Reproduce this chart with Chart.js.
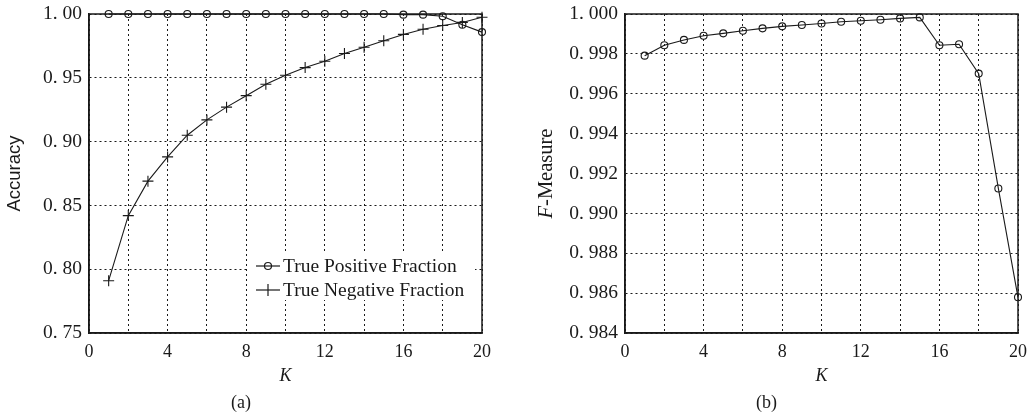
<!DOCTYPE html>
<html>
<head>
<meta charset="utf-8">
<script src="https://cdn.jsdelivr.net/npm/chart.js@4.4.1/dist/chart.umd.min.js"></script>
<style>
    body { margin: 0; background: #fff; }
    .panel { position: absolute; top: 0; width: 515px; height: 416px; }
    #panel-a { left: 0; }
    #panel-b { left: 515px; }
</style>
</head>
<body>
<div class="panel" id="panel-a"><canvas id="chart-a"></canvas></div>
<div class="panel" id="panel-b"><canvas id="chart-b"></canvas></div>
<script>
"use strict";

// Data:
var kValues = [1, 2, 3, 4, 5, 6, 7, 8, 9, 10, 11, 12, 13, 14, 15, 16, 17, 18, 19, 20];
var truePositive = [1.0, 1.0, 1.0, 1.0, 1.0, 1.0, 1.0, 1.0, 1.0, 1.0, 1.0, 1.0, 1.0, 1.0, 1.0, 0.9995, 0.9995, 0.9982, 0.9916, 0.9858];
var trueNegative = [0.791, 0.842, 0.869, 0.888, 0.905, 0.917, 0.927, 0.936, 0.945, 0.952, 0.958, 0.963, 0.969, 0.974, 0.979, 0.984, 0.988, 0.991, 0.9934, 0.9975];
var fMeasure = [0.99791, 0.99843, 0.9987, 0.99891, 0.99903, 0.99916, 0.99928, 0.99938, 0.99945, 0.99952, 0.99961, 0.99966, 0.99971, 0.99978, 0.99983, 0.99843, 0.99848, 0.99701, 0.99125, 0.98579];
var kTickLabels = [0, 4, 8, 12, 16, 20];

var INK = '#1a1a1a';
var SERIF = "'Liberation Serif', 'DejaVu Serif', serif";
var SANS = "'Liberation Sans', 'DejaVu Sans', sans-serif";
Chart.defaults.font.family = SERIF;
Chart.defaults.color = INK;

var toPoints = function (ys) {
    return kValues.map(function (k, i) { return { x: k, y: ys[i] }; });
};

// "0. 95" style labels like in the printed figure
var spacedLabel = function (digits) {
    return function (value) { return value.toFixed(digits).replace('.', '. '); };
};

// Frame, rotated y title (with optional italic parts) and the inner legend:
var decorations = {
    id: 'decorations',
    afterDraw: function (chart, args, opts) {
        var ctx = chart.ctx;
        var area = chart.chartArea;
        ctx.save();

        ctx.strokeStyle = INK;
        ctx.lineWidth = 1.5;
        ctx.strokeRect(area.left, area.top, area.right - area.left, area.bottom - area.top);

        // y title
        var parts = opts.yTitle || [];
        var fontOf = function (p) {
            return (p.italic ? 'italic ' : '') + opts.yTitleSize + 'px ' + opts.yTitleFamily;
        };
        var widths = parts.map(function (p) {
            ctx.font = fontOf(p);
            return ctx.measureText(p.text).width;
        });
        var total = widths.reduce(function (a, b) { return a + b; }, 0);
        ctx.translate(opts.yTitleX, (area.top + area.bottom) / 2);
        ctx.rotate(-Math.PI / 2);
        ctx.fillStyle = INK;
        ctx.textBaseline = 'middle';
        ctx.textAlign = 'left';
        var cx = -total / 2;
        parts.forEach(function (p, i) {
            ctx.font = fontOf(p);
            ctx.fillText(p.text, cx, 0);
            cx += widths[i];
        });
        ctx.setTransform(1, 0, 0, 1, 0, 0);

        if (opts.legend) {
            var boxW = 226, boxH = 48;
            var x0 = area.right - 7 - boxW;
            var y0 = area.bottom - 81;
            ctx.fillStyle = '#fff';
            ctx.fillRect(x0, y0, boxW, boxH);
            ctx.font = '19.5px ' + SERIF;
            ctx.textBaseline = 'middle';
            chart.data.datasets.forEach(function (ds, i) {
                var y = y0 + 14 + i * 24;
                ctx.strokeStyle = INK;
                ctx.lineWidth = 1.2;
                ctx.beginPath();
                ctx.moveTo(x0 + 7, y);
                ctx.lineTo(x0 + 31, y);
                ctx.stroke();
                var mx = x0 + 19;
                ctx.beginPath();
                if (ds.pointStyle === 'circle') {
                    ctx.arc(mx, y, 3.5, 0, Math.PI * 2);
                } else {
                    ctx.moveTo(mx, y - 6);
                    ctx.lineTo(mx, y + 6);
                }
                ctx.stroke();
                ctx.fillStyle = INK;
                ctx.fillText(ds.label, x0 + 34, y + 1);
            });
        }
        ctx.restore();
    }
};

var makeOptions = function (cfg) {
    return {
        responsive: true,
        maintainAspectRatio: false,
        animation: false,
        layout: { padding: { left: 0, right: cfg.padRight, top: 14, bottom: 0 } },
        plugins: {
            legend: { display: false },
            tooltip: { enabled: false },
            title: {
                display: true,
                position: 'bottom',
                text: cfg.caption,
                color: INK,
                font: { size: 18, weight: 'normal' },
                padding: { top: 0, bottom: 2 }
            },
            decorations: {
                yTitle: cfg.yTitle, yTitleX: cfg.yTitleX, yTitleSize: cfg.yTitleSize,
                yTitleFamily: cfg.yTitleFamily, legend: cfg.legend
            }
        },
        scales: {
            x: {
                type: 'linear',
                min: 0,
                max: 20,
                afterFit: function (scale) {
                    scale.height = 59.4;
                    scale.paddingLeft = 0;
                    scale.paddingRight = 0;
                },
                ticks: {
                    stepSize: 2,
                    padding: 8,
                    autoSkip: false,
                    maxRotation: 0,
                    color: INK,
                    font: { size: 18 },
                    callback: function (v) { return kTickLabels.indexOf(v) >= 0 ? String(v) : ''; }
                },
                grid: { color: INK, lineWidth: 1, drawTicks: false },
                border: { color: INK, width: 1.5, dash: [2, 3] },
                title: {
                    display: true,
                    text: 'K',
                    color: INK,
                    font: { size: 18, style: 'italic' },
                    padding: { top: 0, bottom: 5 }
                }
            },
            y: {
                min: cfg.yMin,
                max: cfg.yMax,
                afterFit: function (scale) {
                    scale.width = cfg.yWidth;
                    scale.paddingTop = 0;
                    scale.paddingBottom = 0;
                },
                ticks: {
                    stepSize: cfg.yStep,
                    padding: 7,
                    color: INK,
                    font: { size: 19.5 },
                    callback: spacedLabel(cfg.digits)
                },
                grid: { color: INK, lineWidth: 1, drawTicks: false },
                border: { color: INK, width: 1.5, dash: [2, 3] }
            }
        }
    };
};

var lineStyle = function (label, ys, pointStyle, radius) {
    return {
        label: label,
        data: toPoints(ys),
        borderColor: INK,
        borderWidth: 1.1,
        pointStyle: pointStyle,
        pointRadius: radius,
        pointBorderColor: INK,
        pointBorderWidth: 1.1,
        pointBackgroundColor: 'rgba(0,0,0,0)',
        tension: 0,
        clip: false
    };
};

new Chart(document.getElementById('chart-a'), {
    type: 'line',
    data: {
        datasets: [
            lineStyle('True Positive Fraction', truePositive, 'circle', 3.5),
            lineStyle('True Negative Fraction', trueNegative, 'cross', 5.5)
        ]
    },
    options: makeOptions({
        padRight: 33, yWidth: 89, yMin: 0.75, yMax: 1.0, yStep: 0.05, digits: 2,
        caption: '(a)', yTitle: [{ text: 'Accuracy' }], yTitleX: 15, yTitleSize: 18.5,
        yTitleFamily: SANS, legend: true
    }),
    plugins: [decorations]
});

new Chart(document.getElementById('chart-b'), {
    type: 'line',
    data: {
        datasets: [lineStyle('F-Measure', fMeasure, 'circle', 3.5)]
    },
    options: makeOptions({
        padRight: 12, yWidth: 110, yMin: 0.984, yMax: 1.0, yStep: 0.002, digits: 3,
        caption: '(b)', yTitle: [{ text: 'F', italic: true }, { text: '-Measure' }], yTitleX: 32,
        yTitleSize: 20.5, yTitleFamily: SERIF, legend: false
    }),
    plugins: [decorations]
});
</script>
</body>
</html>
